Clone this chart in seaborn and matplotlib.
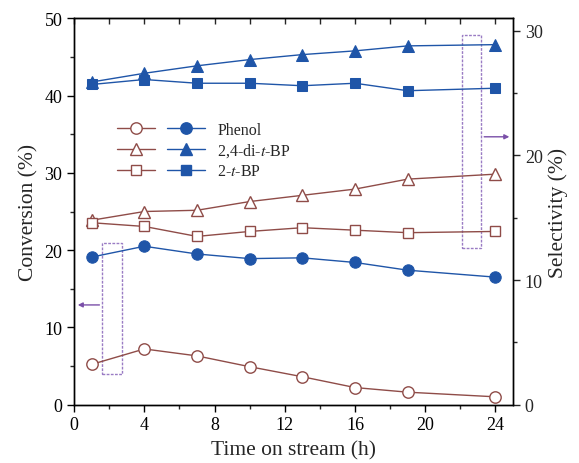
import numpy as np
import pandas as pd
import matplotlib
matplotlib.use("Agg")
import matplotlib.pyplot as plt
import seaborn as sns
from matplotlib.legend_handler import HandlerTuple
from matplotlib.patches import Rectangle
from matplotlib.ticker import MultipleLocator

# time on stream (h)
time_h = [1, 4, 7, 10, 13, 16, 19, 24]

# conversion of phenol (%), left axis
phenol_open = [5.2, 7.2, 6.3, 4.9, 3.6, 2.2, 1.6, 1.0]
phenol_filled = [19.1, 20.5, 19.5, 18.9, 19.0, 18.4, 17.4, 16.5]

# selectivity (%), right axis
dibp_open = [14.8, 15.5, 15.6, 16.3, 16.8, 17.3, 18.1, 18.5]
dibp_filled = [25.9, 26.6, 27.2, 27.7, 28.1, 28.4, 28.8, 28.9]
tbp_open = [14.6, 14.3, 13.5, 13.9, 14.2, 14.0, 13.8, 13.9]
tbp_filled = [25.7, 26.1, 25.8, 25.8, 25.6, 25.8, 25.2, 25.4]

labels = ["Phenol", "2,4-di-$t$-BP", "2-$t$-BP"]

brown = "#8f4c48"
blue = "#1f55a8"
purple = "#9a7cc4"

sns.set_style("ticks")
plt.rcParams["font.family"] = ["Liberation Serif", "DejaVu Serif"]
plt.rcParams["mathtext.fontset"] = "stix"

fig, ax = plt.subplots(figsize=(5.79, 4.64), dpi=100)
fig.subplots_adjust(left=0.128, right=0.886, bottom=0.126, top=0.958)
ax2 = ax.twinx()

df = pd.DataFrame({
    "time": time_h,
    "phenol_open": phenol_open, "phenol_filled": phenol_filled,
    "dibp_open": dibp_open, "dibp_filled": dibp_filled,
    "tbp_open": tbp_open, "tbp_filled": tbp_filled,
})

open_kw = dict(color=brown, lw=1.0, markerfacecolor="white", markeredgecolor=brown,
               markeredgewidth=1.0)
fill_kw = dict(color=blue, lw=1.0, markerfacecolor=blue, markeredgecolor=blue)
sizes = {"o": 8.2, "^": 8.5, "s": 7.2}

sns.lineplot(data=df, x="time", y="phenol_open", marker="o", markersize=sizes["o"], ax=ax, **open_kw)
sns.lineplot(data=df, x="time", y="phenol_filled", marker="o", markersize=sizes["o"], ax=ax, **fill_kw)
sns.lineplot(data=df, x="time", y="dibp_open", marker="^", markersize=sizes["^"], ax=ax2, **open_kw)
sns.lineplot(data=df, x="time", y="dibp_filled", marker="^", markersize=sizes["^"], ax=ax2, **fill_kw)
sns.lineplot(data=df, x="time", y="tbp_open", marker="s", markersize=sizes["s"], ax=ax2, **open_kw)
sns.lineplot(data=df, x="time", y="tbp_filled", marker="s", markersize=sizes["s"], ax=ax2, **fill_kw)

ax.set_xlim(0, 25)
ax.set_ylim(0, 50)
ax2.set_ylim(0, 31)
ax.xaxis.set_major_locator(MultipleLocator(4))
ax.xaxis.set_minor_locator(MultipleLocator(2))
ax.yaxis.set_major_locator(MultipleLocator(10))
ax.yaxis.set_minor_locator(MultipleLocator(5))
ax2.yaxis.set_major_locator(MultipleLocator(10))
ax2.yaxis.set_minor_locator(MultipleLocator(5))

for a in (ax, ax2):
    for s in a.spines.values():
        s.set_visible(True)
        s.set_linewidth(1.0)
        s.set_color("black")
ax.tick_params(axis="both", which="major", direction="out", length=5, width=1,
               labelsize=13, colors="black")
ax.tick_params(axis="both", which="minor", direction="out", length=3, width=1)
ax2.tick_params(axis="y", which="major", direction="out", length=5, width=1, labelsize=13)
ax2.tick_params(axis="y", which="minor", direction="out", length=3, width=1)

# top axis: inward ticks every 2 h, no labels
top = ax.secondary_xaxis("top")
top.xaxis.set_major_locator(MultipleLocator(2))
top.tick_params(direction="in", length=4, width=1, labeltop=False)

ax.set_xlabel("Time on stream (h)", fontsize=15.5, labelpad=5)
ax.set_ylabel("Conversion (%)", fontsize=15.5)
ax2.set_ylabel("Selectivity (%)", fontsize=15.5)

# legend: open marker + filled marker per entry
handles = []
for m in ["o", "^", "s"]:
    h1, = ax.plot([], [], marker=m, markersize=sizes[m], **open_kw)
    h2, = ax.plot([], [], marker=m, markersize=sizes[m], **fill_kw)
    handles.append((h1, h2))
ax.legend(handles, labels, handler_map={tuple: HandlerTuple(ndivide=None, pad=0.75)},
          loc="upper left", bbox_to_anchor=(0.066, 0.77), frameon=False,
          fontsize=11.5, handlelength=5.5, handletextpad=0.75, labelspacing=0.25)

# dashed boxes and arrows
ax.add_patch(Rectangle((1.6, 3.9), 1.1, 17.0, fill=False, ls=(0, (2, 1)),
                       lw=1.0, ec=purple, zorder=1))
ax.annotate("", xy=(0.05, 12.9), xytext=(1.6, 12.9),
            arrowprops=dict(arrowstyle="-|>", color="#7a4fa8", lw=1.0,
                            mutation_scale=7))
ax2.add_patch(Rectangle((22.1, 12.6), 1.1, 17.1, fill=False, ls=(0, (2, 1)),
                        lw=1.0, ec=purple, zorder=1))
ax2.annotate("", xy=(24.95, 21.5), xytext=(23.2, 21.5),
             arrowprops=dict(arrowstyle="-|>", color="#7a4fa8", lw=1.0,
                             mutation_scale=7))

fig.savefig("out.png", dpi=100)
